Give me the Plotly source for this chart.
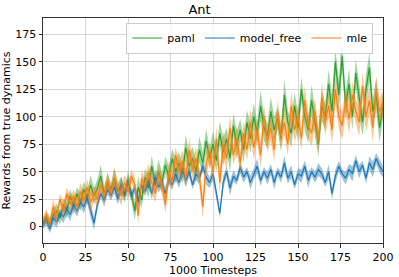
import plotly.graph_objects as go

timesteps = list(range(0, 201, 2))

paml = [4, 8, 2, 10, 14, 8, 20, 15, 28, 18,
        30, 22, 34, 26, 38, 28, 35, 46, 30, 40,
        34, 44, 32, 38, 28, 42, 30, 14, 36, 24,
        45, 35, 55, 38, 50, 40, 56, 45, 62, 50,
        58, 48, 72, 55, 62, 50, 70, 58, 78, 62,
        75, 60, 85, 68, 80, 62, 92, 74, 88, 70,
        95, 80, 100, 85, 110, 90, 82, 105, 88, 98,
        80, 120, 95, 85, 110, 90, 125, 100, 88, 115,
        95, 75, 110, 100, 130, 105, 150, 120, 155, 110,
        130, 100, 140, 115, 95, 125, 145, 105, 120, 90,
        110]
paml_sd = [4, 5, 6, 5, 7, 6, 5, 8, 6, 7,
           6, 8, 7, 6, 9, 7, 8, 10, 7, 8,
           6, 9, 7, 8, 6, 9, 7, 8, 10, 7,
           8, 9, 10, 8, 11, 9, 8, 10, 9, 11,
           10, 9, 12, 10, 11, 9, 12, 10, 11, 9,
           12, 10, 11, 13, 10, 12, 11, 13, 10, 12,
           11, 13, 12, 10, 14, 12, 11, 13, 12, 10,
           12, 14, 11, 13, 12, 14, 11, 13, 12, 14,
           13, 11, 14, 12, 13, 15, 12, 14, 13, 12,
           14, 12, 13, 15, 12, 14, 13, 12, 15, 13,
           12]

model_free = [2, 6, -2, 8, 4, 12, 9, 16, 11, 20,
              14, 22, 18, 26, 15, 3, 20, 30, 24, 34,
              28, 36, 25, 38, 30, 40, 28, 35, 22, 38,
              32, 42, 30, 45, 36, 40, 30, 44, 38, 48,
              40, 52, 42, 50, 38, 48, 44, 55, 45, 40,
              48, 28, 12, 40, 50, 35, 46, 42, 54, 45,
              50, 40, 48, 55, 42, 50, 44, 52, 40, 50,
              45, 58, 44, 50, 38, 48, 46, 55, 42, 50,
              45, 52, 48, 40, 50, 30, 46, 55, 48, 44,
              52, 48, 60, 50, 56, 44, 58, 52, 62, 55,
              50]
model_free_sd = [4, 5, 4, 6, 5, 4, 6, 5, 6, 5,
                 5, 4, 6, 5, 7, 6, 5, 4, 6, 5,
                 4, 6, 5, 7, 5, 6, 4, 5, 6, 5,
                 4, 6, 5, 7, 5, 4, 6, 5, 4, 6,
                 5, 7, 6, 5, 4, 6, 5, 4, 7, 5,
                 6, 5, 4, 6, 5, 7, 5, 4, 6, 5,
                 4, 6, 5, 7, 5, 4, 6, 5, 6, 4,
                 5, 7, 5, 6, 4, 5, 6, 5, 7, 4,
                 5, 6, 5, 4, 7, 5, 6, 5, 4, 6,
                 5, 7, 5, 6, 4, 5, 6, 7, 5, 6,
                 5]

mle = [5, 10, 3, 18, 8, 25, 14, 30, 20, 28,
       18, 32, 24, 36, 22, 30, 25, 38, 28, 42,
       30, 45, 35, 28, 40, 32, 46, 38, 10, 44,
       36, 50, 40, 30, 48, 38, 20, 50, 42, 65,
       50, 60, 45, 70, 52, 62, 45, 18, 58, 68,
       50, 80, 40, 75, 62, 90, 65, 80, 58, 85,
       70, 95, 72, 88, 65, 100, 78, 90, 70, 105,
       82, 95, 75, 110, 88, 100, 80, 115, 92, 85,
       105, 78, 118, 95, 110, 88, 125, 100, 92, 115,
       98, 120, 105, 95, 128, 100, 115, 90, 125, 105,
       112]
mle_sd = [4, 6, 5, 7, 6, 5, 8, 6, 7, 6,
          7, 8, 6, 7, 9, 7, 8, 6, 7, 8,
          6, 8, 7, 9, 7, 8, 6, 7, 8, 7,
          8, 7, 9, 8, 7, 9, 8, 10, 9, 8,
          9, 10, 8, 11, 9, 10, 9, 11, 10, 9,
          10, 11, 9, 12, 10, 11, 9, 12, 10, 11,
          10, 12, 11, 10, 12, 11, 10, 12, 11, 10,
          11, 12, 10, 13, 11, 12, 10, 13, 11, 12,
          12, 11, 13, 12, 11, 13, 12, 11, 13, 12,
          13, 12, 11, 13, 12, 14, 12, 13, 12, 11,
          12]

series = [
    ("paml", paml, paml_sd, "#2ca02c", "rgba(44,160,44,0.45)"),
    ("model_free", model_free, model_free_sd, "#1f77b4", "rgba(31,119,180,0.45)"),
    ("mle", mle, mle_sd, "#ff7f0e", "rgba(255,127,14,0.45)"),
]

fig = go.Figure()
for name, mean, sd, col, fillcol in series:
    lo = [m - s for m, s in zip(mean, sd)]
    hi = [m + s for m, s in zip(mean, sd)]
    fig.add_trace(go.Scatter(x=timesteps, y=lo, mode="lines", line=dict(width=0),
                             showlegend=False, hoverinfo="skip"))
    fig.add_trace(go.Scatter(x=timesteps, y=hi, mode="lines", line=dict(width=0),
                             fill="tonexty", fillcolor=fillcol,
                             showlegend=False, hoverinfo="skip"))
    fig.add_trace(go.Scatter(x=timesteps, y=mean, mode="lines", name=name,
                             line=dict(color=col, width=1.2)))

axis_common = dict(
    showgrid=True, gridcolor="#d6d6d6", gridwidth=1,
    showline=True, linecolor="#333333", linewidth=1, mirror=True,
    ticks="outside", ticklen=3.5, tickcolor="#333333",
    zeroline=False, automargin=False,
    tickfont=dict(family="DejaVu Sans", size=11, color="black"),
)

fig.update_layout(
    width=399, height=277,
    margin=dict(l=43, r=16, t=18, b=34),
    paper_bgcolor="white", plot_bgcolor="white",
    title=dict(text="Ant", x=0.5, xanchor="center", y=0.965, yanchor="middle",
               font=dict(family="DejaVu Sans", size=13, color="black")),
    xaxis=dict(range=[0, 200], tickvals=[0, 25, 50, 75, 100, 125, 150, 175, 200],
               title=dict(text="1000 Timesteps", standoff=2,
                          font=dict(family="DejaVu Sans", size=11, color="black")),
               **axis_common),
    yaxis=dict(range=[-15, 190], tickvals=[0, 25, 50, 75, 100, 125, 150, 175],
               title=dict(text="Rewards from true dynamics", standoff=4,
                          font=dict(family="DejaVu Sans", size=11, color="black")),
               **axis_common),
    legend=dict(orientation="h", x=0.245, xanchor="left", y=0.98, yanchor="top",
                traceorder="normal",
                bgcolor="rgba(255,255,255,0.8)", bordercolor="#cccccc", borderwidth=1,
                font=dict(family="DejaVu Sans", size=11, color="black"),
                itemwidth=30, tracegroupgap=0),
)

fig.write_html("out.html", config={"displayModeBar": False},
               post_script="document.body.style.margin='0';document.body.style.overflow='hidden';")
